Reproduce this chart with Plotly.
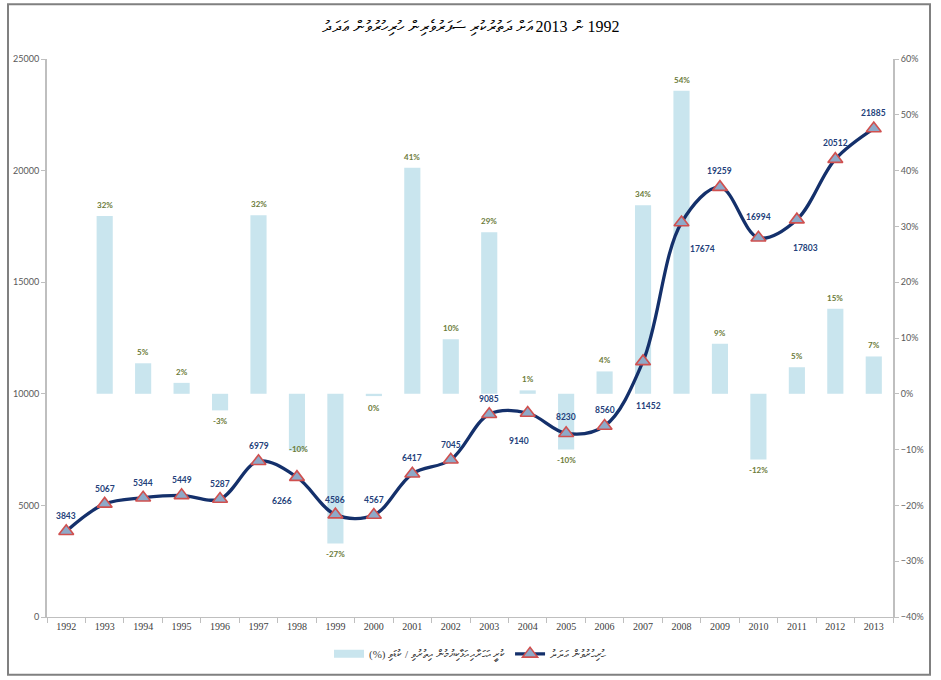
import plotly.graph_objects as go

# ---------------- data ----------------
years = ["1992", "1993", "1994", "1995", "1996", "1997", "1998", "1999", "2000", "2001", "2002",
         "2003", "2004", "2005", "2006", "2007", "2008", "2009", "2010", "2011", "2012", "2013"]
counts = [3843, 5067, 5344, 5449, 5287, 6979, 6266, 4586, 4567, 6417, 7045,
          9085, 9140, 8230, 8560, 11452, 17674, 19259, 16994, 17803, 20512, 21885]
change = [None, 0.3185, 0.0547, 0.0196, -0.0297, 0.3200, -0.1022, -0.2681, -0.0041, 0.4051, 0.0979,
          0.2896, 0.0061, -0.0996, 0.0401, 0.3379, 0.5433, 0.0897, -0.1176, 0.0476, 0.1522, 0.0669]
left_ticks = [0, 5000, 10000, 15000, 20000, 25000]
right_ticks = [-0.4, -0.3, -0.2, -0.1, 0.0, 0.1, 0.2, 0.3, 0.4, 0.5, 0.6]

title_text = "1992 ން 2013 އަށް ދަތުރުކުރި ސަފަރުވެރިން ހުރިހުރުވުން ޢަދަދު"
bar_name = "ކުރީ އަހަރާއި އަޅާކިޔުމުން އިތުރުވި / ކުޑަވި (%)"
line_name = "ހުރިހުރުވުން ޢަދަދު"

RLE, PDF = "\u202b", "\u202c"

def rtl(s):
    return RLE + s + PDF

# ---------------- style ----------------
line_label_shift = [(0, 15), (0, 15), (0, 15), (0, 15), (0, 15), (0, 15), (-15, -24), (0, 15),
                    (0, 15), (0, 16), (0, 15), (0, 15), (-9, -28), (0, 16), (0, 16), (5, -45),
                    (21, -26), (0, 16), (0, 21), (9, -28), (0, 16), (0, 16)]
bar_label_shift = {"1998": (2, 2), "2000": (0, -12)}

NAVY = "#14306b"
BAR = "#c9e5ee"
OLIVE = "#6b7a38"
AXIS = "#bfbfbf"
TICKF = dict(family="Lato, Liberation Sans, sans-serif", size=9, color="#595959")

fig = go.Figure()

fig.add_trace(go.Bar(
    x=years, y=change, name=rtl(bar_name), yaxis="y", showlegend=False,
    marker=dict(color=BAR, line=dict(width=0)), width=0.42,
))
# legend swatch for the bars (wide light-blue band, as in the reference)
fig.add_trace(go.Scatter(
    x=[None], y=[None], name=rtl(bar_name), yaxis="y", mode="lines",
    line=dict(color=BAR, width=8), hoverinfo="skip",
))

fig.add_trace(go.Scatter(
    x=years, y=counts, name=rtl(line_name), yaxis="y2",
    mode="lines+markers",
    line=dict(color=NAVY, width=3.3, shape="spline", smoothing=1.0),
    marker=dict(symbol="triangle-up", size=13, color="#8ea9c8",
                line=dict(color="#d0504f", width=1.6)),
))

annotations = []
for i, v in enumerate(counts):
    dx, dy = line_label_shift[i]
    annotations.append(dict(
        x=i, y=v, xref="x", yref="y2", text=f"<b>{v}</b>", showarrow=False,
        xshift=dx, yshift=dy, font=dict(family="Lato, sans-serif", size=8.5, color="#243f7a"),
    ))
for i, (yr, c) in enumerate(zip(years, change)):
    if c is None:
        continue
    dx, dy = bar_label_shift.get(yr, (0, 11 if c >= 0 else -11))
    annotations.append(dict(
        x=i, y=c, xref="x", yref="y", text=f"<b>{int(round(c * 100))}%</b>", showarrow=False,
        xshift=dx, yshift=dy, font=dict(family="Lato, sans-serif", size=8, color=OLIVE),
    ))

W, H = 941, 680
L, R, T, B = 47, 48, 59, 61
pw, ph = W - L - R, H - T - B

def px_x(px):
    return (px - L) / pw

def px_y(py):
    return (H - B - py) / ph

fig.update_layout(
    width=W, height=H,
    margin=dict(l=L, r=R, t=T, b=B, pad=0),
    paper_bgcolor="white", plot_bgcolor="white",
    title=dict(text=rtl(title_text), x=0.5, xanchor="center", y=1 - 26 / H, yanchor="middle",
               font=dict(family="Liberation Serif, serif", size=16, color="#000000")),
    showlegend=True,
    legend=dict(orientation="h", x=0.5, xanchor="center", y=px_y(656), yanchor="middle",
                font=dict(family="Liberation Serif, serif", size=11, color="#404040"),
                bgcolor="rgba(0,0,0,0)", itemwidth=30),
    xaxis=dict(type="category", range=[-0.5, len(years) - 0.5], showgrid=False,
               showline=True, linecolor=AXIS, linewidth=1,
               ticks="outside", tickson="boundaries", ticklen=5, tickcolor=AXIS, tickangle=0,
               tickfont=dict(family="Liberation Serif, serif", size=10, color="#404040")),
    yaxis=dict(side="right", range=[-0.4, 0.6], tickvals=right_ticks, tickformat=".0%",
               showgrid=False, zeroline=False, showline=True, linecolor=AXIS, linewidth=2,
               ticks="outside", ticklen=4, tickcolor=AXIS, tickfont=TICKF),
    yaxis2=dict(overlaying="y", side="left", range=[0, 25000], tickvals=left_ticks,
                tickformat="d",
                showgrid=False, zeroline=False, showline=True, linecolor=AXIS, linewidth=2,
                ticks="outside", ticklen=4, tickcolor=AXIS, tickfont=TICKF),
    annotations=annotations,
    shapes=[dict(type="rect", xref="paper", yref="paper",
                 x0=px_x(8), x1=px_x(930), y0=px_y(677), y1=px_y(4),
                 line=dict(color="#808080", width=2), fillcolor="rgba(0,0,0,0)", layer="below")],
)

fig.write_html("out.html", config={"displayModeBar": False},
               post_script="document.body.style.margin='0px';")
